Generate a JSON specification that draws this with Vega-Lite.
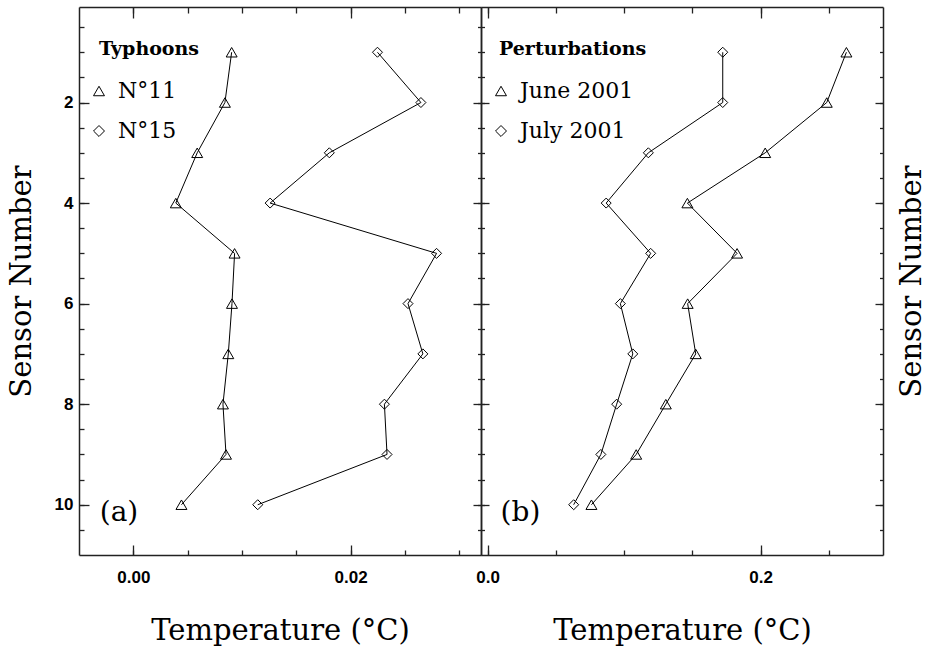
{
  "$schema": "https://vega.github.io/schema/vega-lite/v6.json",
  "background": "white",
  "padding": {"left": 7, "top": 6, "right": 5, "bottom": 5},
  "config": {
    "view": {"stroke": null},
    "axis": {
      "grid": false,
      "domainColor": "#222222",
      "domainWidth": 1.5,
      "tickColor": "#222222",
      "tickWidth": 1.3,
      "labelFont": "Liberation Sans",
      "labelFontWeight": "bold",
      "labelFontSize": 17,
      "labelColor": "black",
      "labelFlush": false,
      "labelOverlap": false,
      "titleFont": "DejaVu Serif",
      "titleFontWeight": "normal",
      "titleFontSize": 29,
      "titleColor": "black"
    },
    "legend": {
      "titleFont": "DejaVu Serif",
      "titleFontSize": 19,
      "titleFontWeight": "bold",
      "titleColor": "black",
      "labelFont": "DejaVu Serif",
      "labelFontSize": 22,
      "labelColor": "black",
      "padding": 0,
      "titlePadding": 21,
      "rowPadding": 18,
      "labelOffset": 8,
      "symbolSize": 120,
      "symbolStrokeColor": "black",
      "symbolFillColor": "transparent",
      "symbolStrokeWidth": 1
    }
  },
  "datasets": {
    "typhoons": [
      {"series": "N°11", "sensor": 1, "temp": 0.00905},
      {"series": "N°11", "sensor": 2, "temp": 0.00843},
      {"series": "N°11", "sensor": 3, "temp": 0.00588},
      {"series": "N°11", "sensor": 4, "temp": 0.00391},
      {"series": "N°11", "sensor": 5, "temp": 0.00932},
      {"series": "N°11", "sensor": 6, "temp": 0.00908},
      {"series": "N°11", "sensor": 7, "temp": 0.00874},
      {"series": "N°11", "sensor": 8, "temp": 0.00825},
      {"series": "N°11", "sensor": 9, "temp": 0.00853},
      {"series": "N°11", "sensor": 10, "temp": 0.00443},
      {"series": "N°15", "sensor": 1, "temp": 0.02247},
      {"series": "N°15", "sensor": 2, "temp": 0.02647},
      {"series": "N°15", "sensor": 3, "temp": 0.01804},
      {"series": "N°15", "sensor": 4, "temp": 0.01259},
      {"series": "N°15", "sensor": 5, "temp": 0.02791},
      {"series": "N°15", "sensor": 6, "temp": 0.02528},
      {"series": "N°15", "sensor": 7, "temp": 0.02665},
      {"series": "N°15", "sensor": 8, "temp": 0.02311},
      {"series": "N°15", "sensor": 9, "temp": 0.02335},
      {"series": "N°15", "sensor": 10, "temp": 0.01145}
    ],
    "perturbations": [
      {"series": "June 2001", "sensor": 1, "temp": 0.2629},
      {"series": "June 2001", "sensor": 2, "temp": 0.2485},
      {"series": "June 2001", "sensor": 3, "temp": 0.2034},
      {"series": "June 2001", "sensor": 4, "temp": 0.1464},
      {"series": "June 2001", "sensor": 5, "temp": 0.1828},
      {"series": "June 2001", "sensor": 6, "temp": 0.1466},
      {"series": "June 2001", "sensor": 7, "temp": 0.1525},
      {"series": "June 2001", "sensor": 8, "temp": 0.1306},
      {"series": "June 2001", "sensor": 9, "temp": 0.1089},
      {"series": "June 2001", "sensor": 10, "temp": 0.0761},
      {"series": "July 2001", "sensor": 1, "temp": 0.1723},
      {"series": "July 2001", "sensor": 2, "temp": 0.1723},
      {"series": "July 2001", "sensor": 3, "temp": 0.1178},
      {"series": "July 2001", "sensor": 4, "temp": 0.0869},
      {"series": "July 2001", "sensor": 5, "temp": 0.1195},
      {"series": "July 2001", "sensor": 6, "temp": 0.0973},
      {"series": "July 2001", "sensor": 7, "temp": 0.1064},
      {"series": "July 2001", "sensor": 8, "temp": 0.0946},
      {"series": "July 2001", "sensor": 9, "temp": 0.0830},
      {"series": "July 2001", "sensor": 10, "temp": 0.0631}
    ]
  },
  "spacing": 0,
  "bounds": "flush",
  "resolve": {
    "scale": {"x": "independent", "y": "independent", "shape": "independent"},
    "axis": {"x": "independent", "y": "independent"},
    "legend": {"shape": "independent"}
  },
  "hconcat": [
    {
      "width": 402,
      "height": 548,
      "data": {"name": "typhoons"},
      "resolve": {"axis": {"x": "independent", "y": "independent"}},
      "layer": [
        {
          "mark": {"type": "line", "color": "black", "strokeWidth": 1},
          "encoding": {
            "x": {"field": "temp", "type": "quantitative",
              "scale": {"domain": [-0.005, 0.032], "nice": false, "zero": false},
              "axis": {"orient": "bottom", "values": [0, 0.02], "format": ".2f", "tickSize": -10, "labelPadding": 24, "title": "Temperature (°C)", "titlePadding": 31}},
            "y": {"field": "sensor", "type": "quantitative",
              "scale": {"domain": [0.1, 11], "reverse": true, "nice": false, "zero": false},
              "axis": {"orient": "left", "values": [2, 4, 6, 8, 10], "tickSize": -10, "labelPadding": 16, "title": "Sensor Number", "titlePadding": 18}},
            "detail": {"field": "series"},
            "order": {"field": "sensor"}
          }
        },
        {
          "transform": [{"filter": "datum.series === 'N°11'"}],
          "mark": {"type": "point", "filled": false, "color": "black", "size": 120, "strokeWidth": 1, "opacity": 1},
          "encoding": {
            "x": {"field": "temp", "type": "quantitative",
              "axis": {"orient": "bottom", "values": [0, 0.005, 0.01, 0.015, 0.02, 0.025, 0.03], "tickSize": -5, "labels": false, "domain": false, "title": null}},
            "y": {"field": "sensor", "type": "quantitative",
              "axis": {"orient": "left", "values": [0.5, 1, 1.5, 2, 2.5, 3, 3.5, 4, 4.5, 5, 5.5, 6, 6.5, 7, 7.5, 8, 8.5, 9, 9.5, 10, 10.5], "tickSize": -5, "labels": false, "domain": false, "title": null}},
            "shape": {"field": "series", "type": "nominal",
              "scale": {"domain": ["N°11", "N°15"], "range": ["triangle-up", "diamond"]},
              "legend": {"title": "Typhoons", "orient": "none", "legendX": 20, "legendY": 33, "symbolOffset": -11}}
          }
        },
        {
          "transform": [{"filter": "datum.series === 'N°15'"}],
          "mark": {"type": "point", "filled": false, "color": "black", "size": 100, "strokeWidth": 1, "opacity": 1},
          "encoding": {
            "x": {"field": "temp", "type": "quantitative",
              "axis": {"orient": "top", "values": [0, 0.02], "tickSize": -11, "labels": false, "title": null}},
            "y": {"field": "sensor", "type": "quantitative",
              "axis": {"orient": "right", "values": [2, 4, 6, 8, 10], "tickSize": -8, "labels": false, "title": null}},
            "shape": {"field": "series", "type": "nominal",
              "scale": {"domain": ["N°11", "N°15"], "range": ["triangle-up", "diamond"]},
              "legend": {"title": "Typhoons", "orient": "none", "legendX": 20, "legendY": 33, "symbolOffset": -11}}
          }
        },
        {
          "data": {"values": [{}]},
          "mark": {"type": "text", "font": "DejaVu Serif", "fontSize": 28, "color": "black", "align": "center", "baseline": "middle"},
          "encoding": {
            "x": {"datum": -0.00132, "type": "quantitative",
              "axis": {"orient": "top", "values": [0, 0.005, 0.01, 0.015, 0.02, 0.025, 0.03], "tickSize": -6, "labels": false, "domain": false, "title": null}},
            "y": {"datum": 10.165, "type": "quantitative",
              "axis": {"orient": "right", "values": [0.5, 1, 1.5, 2, 2.5, 3, 3.5, 4, 4.5, 5, 5.5, 6, 6.5, 7, 7.5, 8, 8.5, 9, 9.5, 10, 10.5], "tickSize": -3.5, "labels": false, "domain": false, "title": null}},
            "text": {"value": "(a)"}
          }
        }
      ]
    },
    {
      "width": 402,
      "height": 548,
      "data": {"name": "perturbations"},
      "resolve": {"axis": {"x": "independent", "y": "independent"}},
      "layer": [
        {
          "mark": {"type": "line", "color": "black", "strokeWidth": 1},
          "encoding": {
            "x": {"field": "temp", "type": "quantitative",
              "scale": {"domain": [-0.0048, 0.2897], "nice": false, "zero": false},
              "axis": {"orient": "bottom", "values": [0, 0.2], "format": ".1f", "tickSize": -10, "labelPadding": 24, "title": "Temperature (°C)", "titlePadding": 31}},
            "y": {"field": "sensor", "type": "quantitative",
              "scale": {"domain": [0.1, 11], "reverse": true, "nice": false, "zero": false},
              "axis": {"orient": "left", "values": [2, 4, 6, 8, 10], "tickSize": -8, "labels": false, "title": null}},
            "detail": {"field": "series"},
            "order": {"field": "sensor"}
          }
        },
        {
          "transform": [{"filter": "datum.series === 'June 2001'"}],
          "mark": {"type": "point", "filled": false, "color": "black", "size": 120, "strokeWidth": 1, "opacity": 1},
          "encoding": {
            "x": {"field": "temp", "type": "quantitative",
              "axis": {"orient": "bottom", "values": [0, 0.05, 0.1, 0.15, 0.2, 0.25], "tickSize": -5, "labels": false, "domain": false, "title": null}},
            "y": {"field": "sensor", "type": "quantitative",
              "axis": {"orient": "left", "values": [0.5, 1, 1.5, 2, 2.5, 3, 3.5, 4, 4.5, 5, 5.5, 6, 6.5, 7, 7.5, 8, 8.5, 9, 9.5, 10, 10.5], "tickSize": -3.5, "labels": false, "domain": false, "title": null}},
            "shape": {"field": "series", "type": "nominal",
              "scale": {"domain": ["June 2001", "July 2001"], "range": ["triangle-up", "diamond"]},
              "legend": {"title": "Perturbations", "orient": "none", "legendX": 18, "legendY": 33, "symbolOffset": -9}}
          }
        },
        {
          "transform": [{"filter": "datum.series === 'July 2001'"}],
          "mark": {"type": "point", "filled": false, "color": "black", "size": 100, "strokeWidth": 1, "opacity": 1},
          "encoding": {
            "x": {"field": "temp", "type": "quantitative",
              "axis": {"orient": "top", "values": [0, 0.2], "tickSize": -11, "labels": false, "title": null}},
            "y": {"field": "sensor", "type": "quantitative",
              "axis": {"orient": "right", "values": [2, 4, 6, 8, 10], "tickSize": -8, "labels": false, "title": "Sensor Number", "titleAngle": 270, "titleBaseline": "top", "titlePadding": 14}},
            "shape": {"field": "series", "type": "nominal",
              "scale": {"domain": ["June 2001", "July 2001"], "range": ["triangle-up", "diamond"]},
              "legend": {"title": "Perturbations", "orient": "none", "legendX": 18, "legendY": 33, "symbolOffset": -9}}
          }
        },
        {
          "data": {"values": [{}]},
          "mark": {"type": "text", "font": "DejaVu Serif", "fontSize": 28, "color": "black", "align": "center", "baseline": "middle"},
          "encoding": {
            "x": {"datum": 0.0241, "type": "quantitative",
              "axis": {"orient": "top", "values": [0, 0.05, 0.1, 0.15, 0.2, 0.25], "tickSize": -6, "labels": false, "domain": false, "title": null}},
            "y": {"datum": 10.165, "type": "quantitative",
              "axis": {"orient": "right", "values": [0.5, 1, 1.5, 2, 2.5, 3, 3.5, 4, 4.5, 5, 5.5, 6, 6.5, 7, 7.5, 8, 8.5, 9, 9.5, 10, 10.5], "tickSize": -3.5, "labels": false, "domain": false, "title": null}},
            "text": {"value": "(b)"}
          }
        }
      ]
    }
  ]
}
